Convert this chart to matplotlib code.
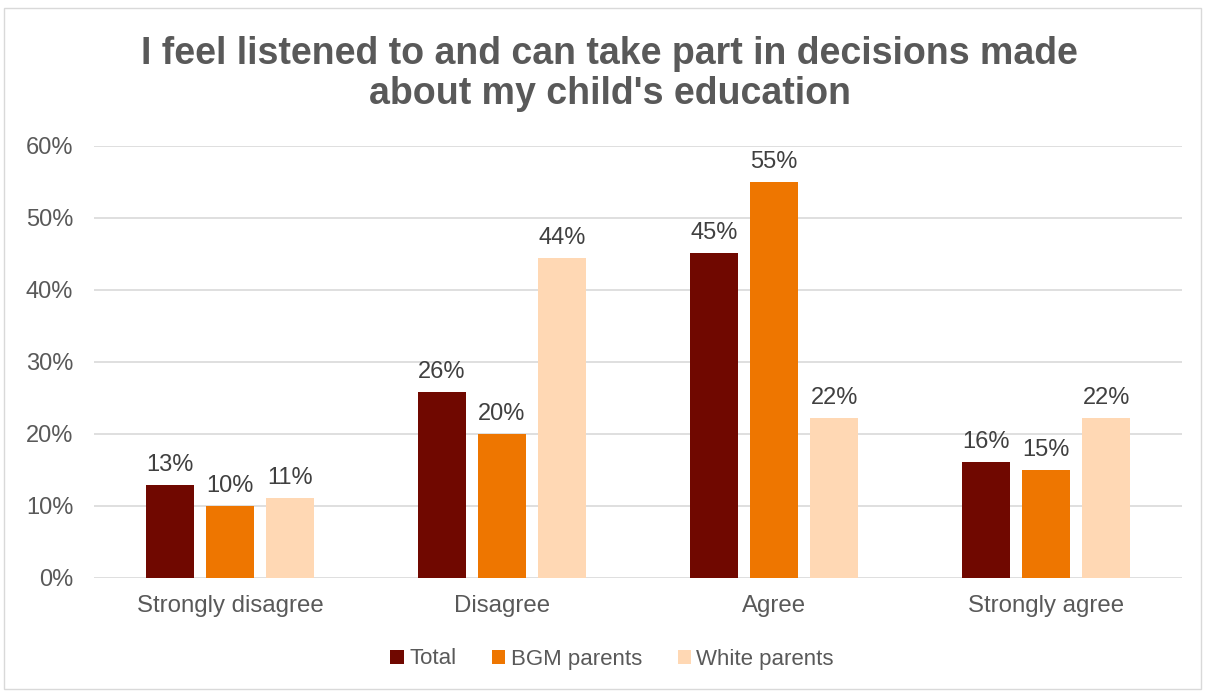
import numpy as np
import matplotlib
matplotlib.use('Agg')
import matplotlib.pyplot as plt
from matplotlib.patches import Rectangle

plt.rcParams['font.family'] = ['Liberation Sans', 'DejaVu Sans']

# ── Survey responses ───────────────────────────────────────
categories = ['Strongly disagree', 'Disagree', 'Agree', 'Strongly agree']
series_names = ['Total', 'BGM parents', 'White parents']
total = [12.9, 25.8, 45.1, 16.1]
bgm = [10.0, 20.0, 55.0, 15.0]
white = [11.1, 44.4, 22.2, 22.2]
yticks = [0, 10, 20, 30, 40, 50, 60]

COLORS = ['#700800', '#EE7600', '#FFD8B4']
TEXT = '#595959'

fig = plt.figure(figsize=(12.05, 6.91), dpi=100)
fig.patch.set_facecolor('white')
fig.patches.append(Rectangle((0.003, 0.003), 0.994, 0.986, transform=fig.transFigure,
                             fill=False, edgecolor='#D9D9D9', linewidth=1))

ax = fig.add_axes([94 / 1205, 1 - 578 / 691, 1088 / 1205, 432 / 691])

x = np.arange(len(categories))
width = 0.176
step = 0.221
for i, (vals, name) in enumerate(zip([total, bgm, white], series_names)):
    pos = x + (i - 1) * step
    ax.bar(pos, vals, width=width, color=COLORS[i], label=name, zorder=3)
    for px, v in zip(pos, vals):
        ax.text(px, v + 1.3, f'{v:.0f}%', ha='center', va='bottom',
                fontsize=17, color='#404040')

ax.set_xlim(-0.5, 3.5)
ax.set_ylim(0, 60)
ax.set_yticks(yticks)
ax.set_yticklabels([f'{t}%' for t in yticks], fontsize=17, color=TEXT)
ax.set_xticks(x)
ax.set_xticklabels(categories, fontsize=17.3, color=TEXT)
ax.tick_params(axis='both', length=0)
ax.tick_params(axis='x', pad=12)
ax.tick_params(axis='y', pad=15)
ax.grid(axis='y', color='#D9D9D9', linewidth=1.2, zorder=0)
for s in ax.spines.values():
    s.set_visible(False)

fig.text(0.506, 0.893, "I feel listened to and can take part in decisions made\nabout my child's education",
         ha='center', va='center', fontsize=27, fontweight='bold', color=TEXT, linespacing=1.14)

leg = fig.legend(loc='center', bbox_to_anchor=(0.508, 1 - 659 / 691), ncol=3, frameon=False,
                 fontsize=16, handlelength=0.6, handleheight=0.6, handletextpad=0.25,
                 columnspacing=1.6)
for t in leg.get_texts():
    t.set_color(TEXT)

plt.savefig('out.png', dpi=100, facecolor=fig.get_facecolor())
plt.close()
